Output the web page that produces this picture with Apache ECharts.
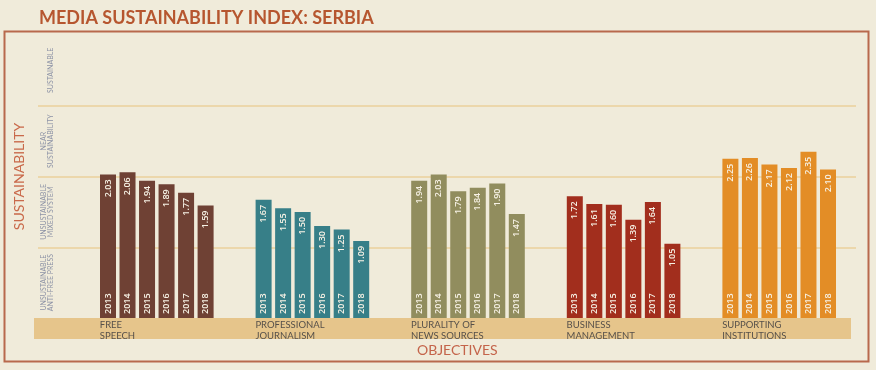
<!DOCTYPE html>
<html>
<head>
<meta charset="utf-8">
<script src="https://cdn.jsdelivr.net/npm/echarts@6/dist/echarts.min.js"></script>
<style>
html,body{margin:0;padding:0;background:#f0ebda;}
#chart{width:876px;height:370px;}
</style>
</head>
<body>
<div id="chart"></div>
<script>
const categories = ['FREE\nSPEECH', 'PROFESSIONAL\nJOURNALISM', 'PLURALITY OF\nNEWS SOURCES', 'BUSINESS\nMANAGEMENT', 'SUPPORTING\nINSTITUTIONS'];
const years = ['2013', '2014', '2015', '2016', '2017', '2018'];
const freeSpeech = [2.03, 2.06, 1.94, 1.89, 1.77, 1.59];
const professionalJournalism = [1.67, 1.55, 1.50, 1.30, 1.25, 1.09];
const plurality = [1.94, 2.03, 1.79, 1.84, 1.90, 1.47];
const businessManagement = [1.72, 1.61, 1.60, 1.39, 1.64, 1.05];
const supportingInstitutions = [2.25, 2.26, 2.17, 2.12, 2.35, 2.10];
const levelLabels = ['UNSUSTAINABLE\nANTI-FREE PRESS', 'UNSUSTAINABLE\nMIXED SYSTEM', 'NEAR\nSUSTAINABILITY', 'SUSTAINABLE'];
const categoryColors = ['#6f4134', '#377f88', '#918d5e', '#a22e1d', '#e38d26'];

const objectiveValues = [freeSpeech, professionalJournalism, plurality, businessManagement, supportingInstitutions];

const chart = echarts.init(document.getElementById('chart'));
const font = 'Lato, "Open Sans", sans-serif';
const TOP = 35, BOTTOM = 52;

const valueSeries = years.map((y, yi) => ({
  name: y,
  type: 'bar',
  xAxisIndex: 2,
  yAxisIndex: 2,
  barWidth: 16,
  barGap: '22%',
  data: objectiveValues.map((arr, ci) => ({ value: arr[yi], itemStyle: { color: categoryColors[ci] } })),
  label: {
    show: true,
    position: 'insideTop',
    distance: 5,
    rotate: 90,
    align: 'right',
    verticalAlign: 'middle',
    formatter: p => p.value.toFixed(2),
    color: '#f6f1e4',
    fontSize: 9,
    fontWeight: 600,
    fontFamily: '"Open Sans", sans-serif'
  },
  silent: true
}));
const yearSeries = years.map((y, yi) => ({
  name: y + 'label',
  type: 'bar',
  xAxisIndex: 3,
  yAxisIndex: 2,
  barWidth: 16,
  barGap: '22%',
  data: objectiveValues.map(arr => arr[yi]),
  itemStyle: { color: 'rgba(0,0,0,0)' },
  label: {
    show: true,
    position: 'insideBottom',
    distance: 4,
    rotate: 90,
    align: 'left',
    verticalAlign: 'middle',
    formatter: () => y,
    color: '#f6f1e4',
    fontSize: 9,
    fontWeight: 600,
    fontFamily: '"Open Sans", sans-serif'
  },
  z: 3,
  silent: true
}));

chart.setOption({
  backgroundColor: '#f0ebda',
  animation: false,
  title: [
    { text: 'MEDIA SUSTAINABILITY INDEX: SERBIA', left: 34, top: 4,
      textStyle: { color: '#b6562f', fontSize: 18, fontWeight: 'bold', fontFamily: font } },
    { text: 'OBJECTIVES', left: 412, top: 338,
      textStyle: { color: '#c4644a', fontSize: 14, fontWeight: 'normal', fontFamily: font } }
  ],
  graphic: [
    { type: 'rect', shape: { x: 4.5, y: 31.5, width: 864, height: 330 },
      style: { fill: 'none', stroke: '#b8694c', lineWidth: 2 }, z: 0 },
    { type: 'rect', shape: { x: 34, y: 318, width: 817, height: 21 },
      style: { fill: '#e6c58b' }, z: 0 }
  ],
  grid: [
    { left: 38, right: 20, top: TOP, bottom: BOTTOM },
    { left: 56, right: 810, top: TOP, bottom: BOTTOM },
    { left: 79, right: 19, top: TOP, bottom: BOTTOM },
    { left: 22, right: 76, top: TOP, bottom: BOTTOM }
  ],
  xAxis: [
    { gridIndex: 0, type: 'value', show: false },
    { gridIndex: 1, type: 'value', show: false },
    { gridIndex: 2, type: 'category', data: categories, show: false },
    { gridIndex: 2, type: 'category', data: categories, show: false },
    { gridIndex: 3, type: 'category', data: categories,
      axisLine: { show: false }, axisTick: { show: false },
      axisLabel: { align: 'left', margin: 1, fontSize: 9.5, lineHeight: 11, interval: 0,
        color: '#56504a', fontFamily: font } }
  ],
  yAxis: [
    { gridIndex: 0, type: 'value', min: 0, max: 4, interval: 1,
      axisLine: { show: false }, axisTick: { show: false }, axisLabel: { show: false },
      splitLine: { show: true, showMinLine: false, showMaxLine: false,
        lineStyle: { color: '#ebd09b', width: 1.5 } } },
    { gridIndex: 1, type: 'category', data: levelLabels,
      axisLine: { show: false }, axisTick: { show: false }, splitLine: { show: false },
      axisLabel: { rotate: 90, margin: 2, fontSize: 7, lineHeight: 7, interval: 0,
        color: '#8d93a6', fontFamily: font },
      name: 'SUSTAINABILITY', nameLocation: 'middle', nameRotate: 90, nameGap: 30,
      nameTextStyle: { color: '#c9694a', fontSize: 14, fontFamily: font } },
    { gridIndex: 2, type: 'value', min: 0, max: 4, interval: 1, show: false, splitLine: { show: false } },
    { gridIndex: 3, type: 'value', min: 0, max: 4, interval: 1, show: false, splitLine: { show: false } }
  ],
  series: [...valueSeries, ...yearSeries]
});
</script>
</body>
</html>
